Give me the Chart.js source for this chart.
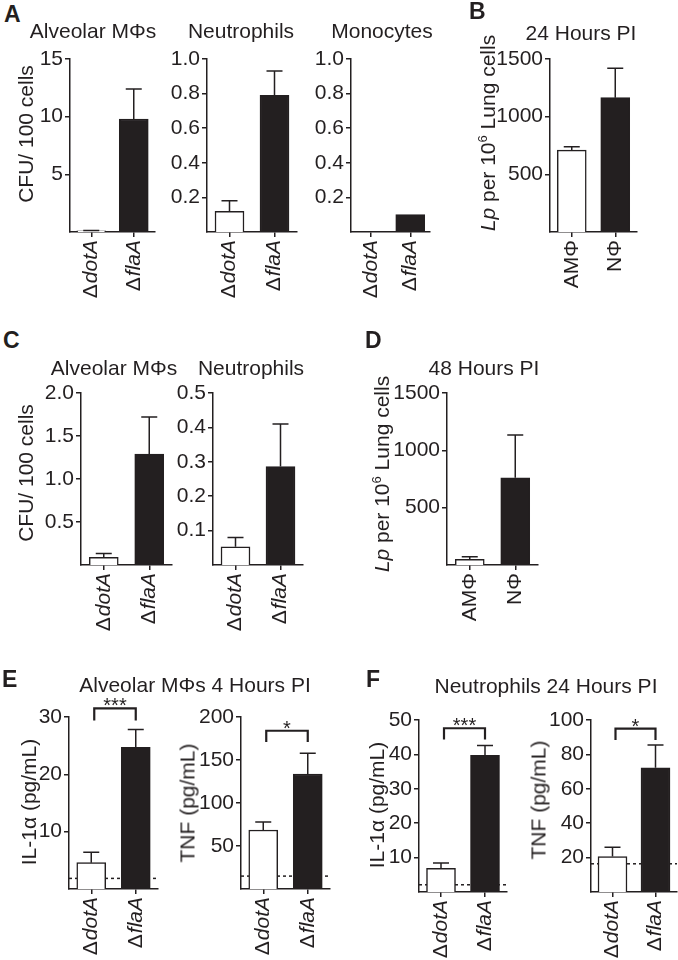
<!DOCTYPE html>
<html>
<head>
<meta charset="utf-8">
<script src="https://cdn.jsdelivr.net/npm/chart.js@4"></script>
<style>
body { margin: 0; background: #fff; }
#fig { position: relative; width: 678px; height: 960px; font-family: "Liberation Sans", Arial, sans-serif; color: #231f20; overflow: hidden; }
#fig canvas { position: absolute; }
.t { position: absolute; font-size: 21px; line-height: 1; white-space: nowrap; transform: translateX(-50%); }
.lt { position: absolute; font-size: 23px; font-weight: bold; line-height: 1; }
.yt { position: absolute; font-size: 21px; line-height: 1; white-space: nowrap; transform: translate(-50%, -50%) rotate(-90deg); }
.yt sup { font-size: 13px; line-height: 0; }
</style>
</head>
<body>
<div id="fig"></div>
<script>
const INK = '#231f20';
const FONT = '"Liberation Sans", Arial, sans-serif';

// categories
const strains = ['ΔdotA', 'ΔflaA'];
const cellTypes = ['AMΦ', 'NΦ'];

// A - CFU / 100 cells
const aAlvMean = [0.1, 9.8],   aAlvErr = [0.03, 2.6];
const aNeuMean = [0.12, 0.79], aNeuErr = [0.06, 0.14];
const aMonMean = [0, 0.1],     aMonErr = [0, 0];
// B - 24 h PI
const bMean = [710, 1165], bErr = [30, 255];
// C - CFU / 100 cells
const cAlvMean = [0.09, 1.29],   cAlvErr = [0.045, 0.43];
const cNeuMean = [0.053, 0.286], cNeuErr = [0.027, 0.124];
// D - 48 h PI
const dMean = [50, 761], dErr = [22, 373];
// E - alveolar MΦs 4 h PI
const eIlMean = [4.6, 24.7],   eIlErr = [1.8, 3.1],   eIlLimit = 1.85;
const eTnfMean = [68.6, 133.7], eTnfErr = [9.4, 24.1], eTnfLimit = 15;
// F - neutrophils 24 h PI
const fIlMean = [6.9, 39.7],   fIlErr = [1.5, 2.9],   fIlLimit = 2.1;
const fTnfMean = [20.6, 72.2], fTnfErr = [5.4, 13.2], fTnfLimit = 16.4;

// significance brackets [leg bottom, top]
const eIlBracket = [29.4, 31.5], eTnfBracket = [171, 184];
const fIlBracket = [44.3, 47.6], fTnfBracket = [88.3, 95];

// tick labels
const aAlvTicks = [5, 10, 15];
const aNeuTicks = [0.2, 0.4, 0.6, 0.8, 1.0];
const aMonTicks = [0.2, 0.4, 0.6, 0.8, 1.0];
const bTicks = [500, 1000, 1500];
const cAlvTicks = [0.5, 1.0, 1.5, 2.0];
const cNeuTicks = [0.1, 0.2, 0.3, 0.4, 0.5];
const dTicks = [500, 1000, 1500];
const eIlTicks = [10, 20, 30];
const eTnfTicks = [50, 100, 150, 200];
const fIlTicks = [10, 20, 30, 40, 50];
const fTnfTicks = [20, 40, 60, 80, 100];

const fig = document.getElementById('fig');

// error bars, detection limit line, brackets, rotated x labels
const marks = {
    id: 'marks',
    beforeDatasetsDraw(chart, args, o) {
        if (o.limit == null) return;
        const {ctx, chartArea} = chart;
        const y = chart.scales.y.getPixelForValue(o.limit);
        ctx.save();
        ctx.strokeStyle = INK;
        ctx.lineWidth = 1.5;
        ctx.setLineDash([3, 3]);
        ctx.beginPath();
        ctx.moveTo(chartArea.left, y);
        ctx.lineTo(chartArea.right, y);
        ctx.stroke();
        ctx.restore();
    },
    afterDatasetsDraw(chart, args, o) {
        const {ctx} = chart;
        const ys = chart.scales.y;
        const bars = chart.getDatasetMeta(0).data;
        const mean = chart.data.datasets[0].data;
        ctx.save();
        ctx.strokeStyle = INK;
        ctx.lineWidth = 1.5;
        bars.forEach((b, i) => {
            if (!o.err || !o.err[i]) return;
            const yt = ys.getPixelForValue(mean[i] + o.err[i]);
            ctx.beginPath();
            ctx.moveTo(b.x, b.y);
            ctx.lineTo(b.x, yt);
            ctx.moveTo(b.x - 8, yt);
            ctx.lineTo(b.x + 8, yt);
            ctx.stroke();
        });
        if (o.bracket) {
            const lo = ys.getPixelForValue(o.bracket[0]);
            const hi = ys.getPixelForValue(o.bracket[1]);
            const x0 = bars[0].x + 3, x1 = bars[1].x;
            ctx.lineWidth = 2.2;
            ctx.beginPath();
            ctx.moveTo(x0, lo);
            ctx.lineTo(x0, hi);
            ctx.lineTo(x1, hi);
            ctx.lineTo(x1, lo);
            ctx.stroke();
            ctx.fillStyle = INK;
            ctx.font = '20px ' + FONT;
            ctx.textAlign = 'center';
            ctx.textBaseline = 'alphabetic';
            ctx.fillText(o.stars, (x0 + x1) / 2, hi + 4);
        }
        ctx.restore();
    },
    afterDraw(chart) {
        const {ctx, chartArea} = chart;
        const xs = chart.scales.x;
        ctx.save();
        ctx.fillStyle = INK;
        ctx.textBaseline = 'middle';
        ctx.textAlign = 'left';
        chart.data.labels.forEach((lab, i) => {
            const parts = lab.startsWith('Δ')
                ? [['Δ', '21px ' + FONT, 1], [lab.slice(1), 'italic 21px ' + FONT, 0]]
                : [[lab, '21px ' + FONT, 0]];
            let w = 0;
            parts.forEach(p => { ctx.font = p[1]; w += ctx.measureText(p[0]).width + p[2]; });
            ctx.save();
            ctx.translate(xs.getPixelForTick(i), chartArea.bottom + 8);
            ctx.rotate(-Math.PI / 2);
            let cx = -w;
            parts.forEach(p => {
                ctx.font = p[1];
                ctx.fillText(p[0], cx, 0);
                cx += ctx.measureText(p[0]).width + p[2];
            });
            ctx.restore();
        });
        ctx.restore();
    }
};

function makeChart(p) {
    const YW = 60, PT = 30, XH = 75, PR = 10;
    const cv = document.createElement('canvas');
    const w = YW + (p.right - p.axisX) + PR;
    const h = PT + (p.bottom - p.top) + XH;
    cv.width = w; cv.height = h;
    cv.style.left = (p.axisX - YW) + 'px';
    cv.style.top = (p.top - PT) + 'px';
    cv.style.width = w + 'px';
    cv.style.height = h + 'px';
    fig.appendChild(cv);

    new Chart(cv.getContext('2d'), {
        type: 'bar',
        data: {
            labels: p.labels,
            datasets: [{
                data: p.mean,
                backgroundColor: ['#ffffff', INK],
                borderColor: INK,
                borderWidth: 1.5,
                barThickness: 29,
            }]
        },
        options: {
            responsive: false,
            animation: false,
            layout: { padding: { top: PT, right: PR, left: 0, bottom: 0 } },
            scales: {
                x: {
                    offset: true,
                    afterFit: s => { s.height = XH; },
                    grid: { offset: false, drawOnChartArea: false, drawTicks: true, tickLength: 5, color: INK, lineWidth: 1.5 },
                    border: { display: true, color: INK, width: 1.5 },
                    ticks: { display: false }
                },
                y: {
                    min: 0,
                    max: p.ticks[p.ticks.length - 1],
                    afterFit: s => { s.width = YW; },
                    afterBuildTicks: s => { s.ticks = p.ticks.map(v => ({ value: v })); },
                    grid: { drawOnChartArea: false, drawTicks: true, tickLength: 5, color: INK, lineWidth: 1.5 },
                    border: { display: true, color: INK, width: 1.5 },
                    ticks: {
                        color: INK,
                        padding: 2,
                        font: { size: 21, family: FONT },
                        callback: v => Number(v).toFixed(p.dec)
                    }
                }
            },
            plugins: {
                legend: { display: false },
                tooltip: { enabled: false },
                marks: { err: p.err, limit: p.limit, bracket: p.bracket, stars: p.stars }
            }
        },
        plugins: [marks]
    });
}

const panels = [
    { labels: strains, mean: aAlvMean, err: aAlvErr, ticks: aAlvTicks, dec: 0, axisX: 70, top: 59, bottom: 232, right: 155 },
    { labels: strains, mean: aNeuMean, err: aNeuErr, ticks: aNeuTicks, dec: 1, axisX: 207, top: 59, bottom: 232, right: 297 },
    { labels: strains, mean: aMonMean, err: aMonErr, ticks: aMonTicks, dec: 1, axisX: 351, top: 59, bottom: 232, right: 430 },
    { labels: cellTypes, mean: bMean, err: bErr, ticks: bTicks, dec: 0, axisX: 550, top: 59, bottom: 232, right: 637 },
    { labels: strains, mean: cAlvMean, err: cAlvErr, ticks: cAlvTicks, dec: 1, axisX: 81, top: 393, bottom: 565, right: 172 },
    { labels: strains, mean: cNeuMean, err: cNeuErr, ticks: cNeuTicks, dec: 1, axisX: 213, top: 393, bottom: 565, right: 303 },
    { labels: cellTypes, mean: dMean, err: dErr, ticks: dTicks, dec: 0, axisX: 447, top: 393, bottom: 565, right: 538 },
    { labels: strains, mean: eIlMean, err: eIlErr, ticks: eIlTicks, dec: 0, limit: eIlLimit, bracket: eIlBracket, stars: '***', axisX: 69, top: 717, bottom: 889, right: 158 },
    { labels: strains, mean: eTnfMean, err: eTnfErr, ticks: eTnfTicks, dec: 0, limit: eTnfLimit, bracket: eTnfBracket, stars: '*', axisX: 241, top: 717, bottom: 889, right: 330 },
    { labels: strains, mean: fIlMean, err: fIlErr, ticks: fIlTicks, dec: 0, limit: fIlLimit, bracket: fIlBracket, stars: '***', axisX: 419, top: 720, bottom: 892, right: 507 },
    { labels: strains, mean: fTnfMean, err: fTnfErr, ticks: fTnfTicks, dec: 0, limit: fTnfLimit, bracket: fTnfBracket, stars: '*', axisX: 591, top: 720, bottom: 892, right: 677 },
];
panels.forEach(makeChart);

// text: baseline-positioned titles, panel letters, rotated axis titles
function addText(cls, html, x, y) {
    const d = document.createElement('div');
    d.className = cls;
    d.innerHTML = html;
    d.style.left = x + 'px';
    d.style.top = y + 'px';
    fig.appendChild(d);
}
const BL = 17.8; // baseline offset for 21px, line-height 1
[['Alveolar MΦs', 93, 38], ['Neutrophils', 241, 38], ['Monocytes', 382, 38], ['24 Hours PI', 581, 40],
 ['Alveolar MΦs', 114, 375], ['Neutrophils', 251, 375], ['48 Hours PI', 484, 375],
 ['Alveolar MΦs 4 Hours PI', 195, 692], ['Neutrophils 24 Hours PI', 546, 693]]
    .forEach(t => addText('t', t[0], t[1], t[2] - BL));

[['A', 4, 22], ['B', 469, 19], ['C', 3, 348], ['D', 365, 348], ['E', 2, 687], ['F', 366, 687]]
    .forEach(t => addText('lt', t[0], t[1], t[2] - 19.5));

const lpTitle = '<i>Lp</i> per 10<sup>6</sup> Lung cells';
[['CFU/ 100 cells', 25, 134], [lpTitle, 487, 133], ['CFU/ 100 cells', 25, 473], [lpTitle, 381, 474],
 ['IL-1α (pg/mL)', 28, 802], ['TNF (pg/mL)', 187, 803], ['IL-1α (pg/mL)', 376, 805], ['TNF (pg/mL)', 538, 800]]
    .forEach(t => addText('yt', t[0], t[1], t[2]));
</script>
</body>
</html>
